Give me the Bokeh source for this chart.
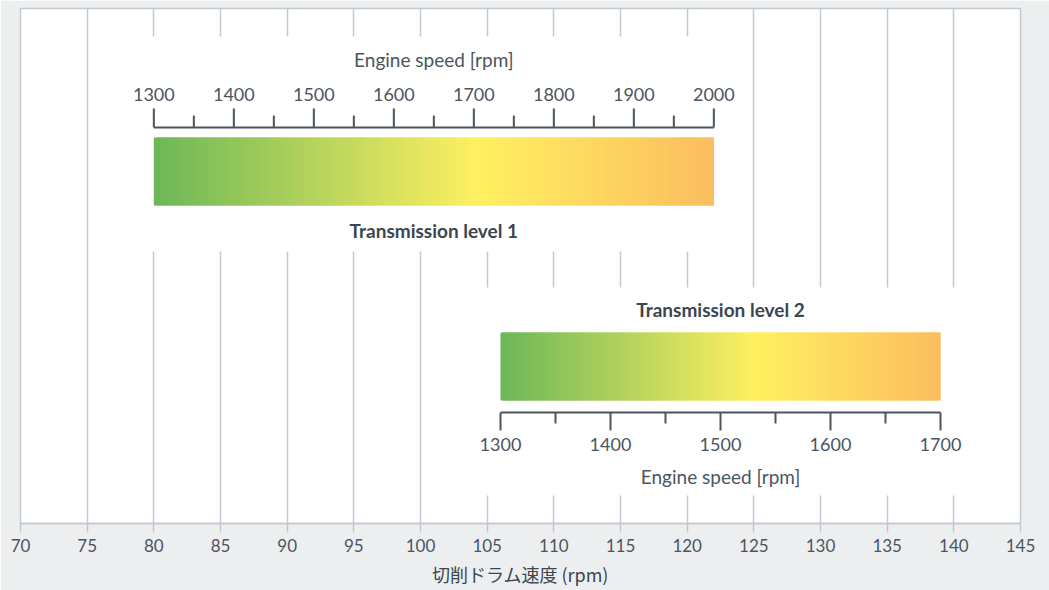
import numpy as np
from bokeh.plotting import figure
from bokeh.models import Range1d, SingleIntervalTicker, ColumnDataSource
from bokeh.core.properties import value
from bokeh.embed import file_html
from bokeh.resources import INLINE

# ---------------- data ----------------
drum_ticks = list(range(70, 146, 5))          # 切削ドラム速度 (rpm)
levels = ["Transmission level 1", "Transmission level 2"]
drum_start = [80, 106]                         # drum speed at start of band
drum_end = [122, 139]                          # drum speed at end of band
rpm_start = [1300, 1300]                       # engine speed at band start
rpm_end = [2000, 1700]                         # engine speed at band end
rpm_major_step = 100
rpm_minor_step = 50
x_label = "切削ドラム速度 (rpm)"
scale_label = "Engine speed [rpm]"

# ---------------- style ----------------
TEXT = "#4b555e"
DARK = "#3b464f"
GRID = "#c3c9ce"
SCALE = "#4a545c"
FONT = value("Lato")

p = figure(width=1049, height=590, output_backend="svg", toolbar_location=None,
           x_range=Range1d(70, 145), y_range=Range1d(515, 0),
           min_border_left=20, min_border_right=29, min_border_top=8, min_border_bottom=67)
p.border_fill_color = "#eceef0"
p.background_fill_color = "white"
p.outline_line_color = GRID
p.outline_line_width = 1.5
p.yaxis.visible = False
p.ygrid.visible = False
p.xgrid.ticker = SingleIntervalTicker(interval=5)
p.xgrid.grid_line_color = GRID
p.xgrid.grid_line_width = 1.5

ax = p.xaxis[0]
ax.ticker = drum_ticks
ax.axis_line_color = GRID
ax.axis_line_width = 1.5
ax.major_tick_line_color = GRID
ax.major_tick_line_width = 1.5
ax.major_tick_in = 0
ax.major_tick_out = 9
ax.minor_tick_line_color = None
ax.major_label_text_font = "Lato"
ax.major_label_text_font_size = "17px"
ax.major_label_text_color = TEXT
ax.major_label_standoff = 6
ax.axis_label = x_label
ax.axis_label_text_font = "Noto Sans CJK JP"
ax.axis_label_text_font_style = "normal"
ax.axis_label_text_font_size = "18px"
ax.axis_label_text_color = DARK
ax.axis_label_standoff = 6

# vertical layout (y grows downward, in pixels from frame top)
layouts = [
    dict(box=(28, 243), bar=(129, 197), base=119, major=100, minor=107, lab=86, title=51, lvl=222),
    dict(box=(279, 487), bar=(324, 392), base=404, major=422, minor=415, lab=436, title=468, lvl=301),
]

stops_t = [0.0, 0.58, 1.0]
stops_c = np.array([[108, 183, 88], [255, 240, 96], [251, 189, 95]], dtype=float)

def grad_color(t):
    rgb = [np.interp(t, stops_t, stops_c[:, k]) for k in range(3)]
    return "#%02x%02x%02x" % tuple(int(round(v)) for v in rgb)

for i in range(len(levels)):
    L = layouts[i]
    d0, d1 = drum_start[i], drum_end[i]
    r0, r1 = rpm_start[i], rpm_end[i]
    to_drum = lambda r: d0 + (r - r0) * (d1 - d0) / (r1 - r0)

    # white box hiding grid lines
    p.quad(left=d0 - 2, right=d1 + 2, top=L["box"][0], bottom=L["box"][1],
           fill_color="white", line_color=None)

    # gradient bar
    n = 200
    edges = np.linspace(d0, d1, n + 1)
    cols = [grad_color((k + 0.5) / n) for k in range(n)]
    w = (d1 - d0) / n
    rights = list(edges[1:] + w)
    rights[-1] = d1
    src = ColumnDataSource(dict(left=list(edges[:-1]), right=rights, color=cols))
    p.quad(left="left", right="right", top=L["bar"][0], bottom=L["bar"][1],
           fill_color="color", line_color=None, source=src)

    # engine-speed scale
    p.segment(x0=[d0], y0=[L["base"]], x1=[d1], y1=[L["base"]], line_color=SCALE, line_width=2)
    majors = list(range(r0, r1 + 1, rpm_major_step))
    minors = [r for r in range(r0, r1 + 1, rpm_minor_step) if r not in majors]
    p.segment(x0=[to_drum(r) for r in majors], y0=[L["base"]] * len(majors),
              x1=[to_drum(r) for r in majors], y1=[L["major"]] * len(majors),
              line_color=SCALE, line_width=2)
    p.segment(x0=[to_drum(r) for r in minors], y0=[L["base"]] * len(minors),
              x1=[to_drum(r) for r in minors], y1=[L["minor"]] * len(minors),
              line_color=SCALE, line_width=2)
    p.text(x=[to_drum(r) for r in majors], y=[L["lab"]] * len(majors), text=[str(r) for r in majors],
           text_font=FONT, text_font_size="18px", text_color=TEXT,
           text_align="center", text_baseline="middle")
    p.text(x=[(d0 + d1) / 2], y=[L["title"]], text=[scale_label],
           text_font=FONT, text_font_size="19px", text_color=TEXT,
           text_align="center", text_baseline="middle")
    p.text(x=[(d0 + d1) / 2], y=[L["lvl"]], text=[levels[i]],
           text_font=FONT, text_font_size="19px", text_font_style="bold", text_color=DARK,
           text_align="center", text_baseline="middle")

open("out.html", "w").write(file_html(p, INLINE))
